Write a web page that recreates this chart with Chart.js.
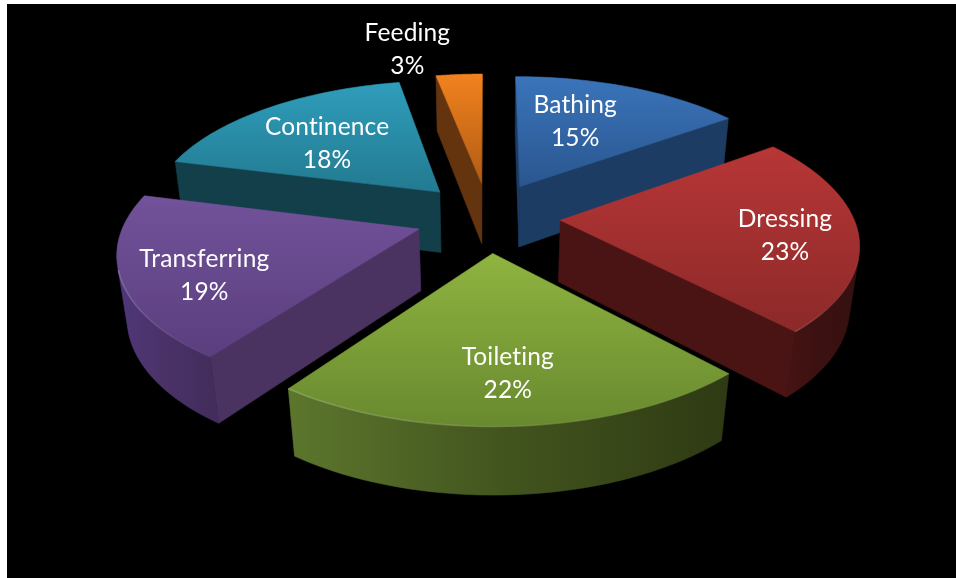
<!DOCTYPE html>
<html>
<head>
<meta charset="utf-8">
<title>Activities of daily living</title>
<script src="https://cdn.jsdelivr.net/npm/chart.js@4"></script>
<style>
  html, body { margin: 0; padding: 0; background: #fff; }
  canvas { display: block; }
</style>
</head>
<body>
<canvas id="pie" width="956" height="578"></canvas>
<script>
const activities = ['Bathing', 'Dressing', 'Toileting', 'Transferring', 'Continence', 'Feeding'];
const shares = [15, 23, 22, 19, 18, 3];

// top face gradient, radial wall, curved wall left/middle/right
const topLight = ['#3a74ba', '#b83636', '#8fb440', '#72529a', '#2f9dbb', '#f2821f'];
const topDark = ['#2a568f', '#8c2929', '#69892f', '#5a3e7e', '#227a90', '#b05c14'];
const wallFlat = ['#1c3c63', '#4a1414', '#2e3a13', '#4a3361', '#133f4b', '#64340f'];
const curveLeft = ['#1c3c63', '#4a1414', '#5c762d', '#50377a', '#133f4b', '#64340f'];
const curveMid = ['#1c3c63', '#3d1111', '#42541e', '#4a3268', '#133f4b', '#64340f'];
const curveRight = ['#1c3c63', '#351010', '#2e3a13', '#432d5c', '#133f4b', '#64340f'];

// where each label sits along the slice's middle angle, then a small nudge
const labelReach = [0.5, 0.76, 0.68, 0.74, 0.7, 1.3];
const labelNudge = [[-3, -12], [-1, 5], [0, 9], [3, 10], [11, 12], [-46, 3]];

// perspective view of the flattened pie, radius 1 in model units
const view = { cx: 488, cy: 217, ax: 293, ay: 135, az: 63, k: 0.15, m: 0.027 };
const explodeX = 0.247;
const explodeY = 0.26;

function project(x, y, z) {
    const w = 1 - view.k * y + view.m * z;
    return [view.cx + view.ax * x / w, view.cy + (view.ay * y + view.az * z) / w];
}

function tracePath(ctx, pts) {
    ctx.beginPath();
    pts.forEach((p, i) => i ? ctx.lineTo(p[0], p[1]) : ctx.moveTo(p[0], p[1]));
    ctx.closePath();
}

function signedArea(pts) {
    let a = 0;
    pts.forEach((p, i) => {
        const q = pts[(i + 1) % pts.length];
        a += p[0] * q[1] - q[0] * p[1];
    });
    return a;
}

function fillFace(ctx, pts, fill) {
    tracePath(ctx, pts);
    ctx.fillStyle = fill;
    ctx.strokeStyle = fill;
    ctx.lineWidth = 0.6;
    ctx.fill();
    ctx.stroke();
}

function drawSlice(ctx, arc, i) {
    const mid = (arc.startAngle + arc.endAngle) / 2;
    const ox = explodeX * Math.cos(mid);
    const oy = explodeY * Math.sin(mid);
    const steps = 40;
    const rim = [];
    for (let s = 0; s <= steps; s++) {
        const a = arc.startAngle + (arc.endAngle - arc.startAngle) * s / steps;
        rim.push([ox + Math.cos(a), oy + Math.sin(a)]);
    }
    const top = rim.map(p => project(p[0], p[1], 0));
    const low = rim.map(p => project(p[0], p[1], 1));
    const apexTop = project(ox, oy, 0);
    const apexLow = project(ox, oy, 1);

    // radial walls, only the ones turned towards the viewer
    const walls = [
        [apexTop, top[0], low[0], apexLow],
        [top[steps], apexTop, apexLow, low[steps]]
    ];
    walls.forEach(w => {
        if (signedArea(w) < 0) fillFace(ctx, w, wallFlat[i]);
    });

    // the part of the rim that faces the viewer
    const front = [];
    for (let s = 0; s <= steps; s++) {
        const prev = Math.max(s - 1, 0);
        const next = Math.min(s + 1, steps);
        if (signedArea([top[prev], top[next], low[next], low[prev]]) < 0) front.push(s);
    }
    const xs = top.map(p => p[0]);

    // curved outer wall
    if (front.length > 1) {
        const curve = ctx.createLinearGradient(Math.min(...xs), 0, Math.max(...xs), 0);
        curve.addColorStop(0, curveLeft[i]);
        curve.addColorStop(0.5, curveMid[i]);
        curve.addColorStop(1, curveRight[i]);
        const band = front.map(s => top[s]).concat(front.slice().reverse().map(s => low[s]));
        fillFace(ctx, band, curve);
    }

    // top face
    const ys = top.map(p => p[1]).concat(apexTop[1]);
    const shade = ctx.createLinearGradient(0, Math.min(...ys), 0, Math.max(...ys));
    shade.addColorStop(0, topLight[i]);
    shade.addColorStop(1, topDark[i]);
    fillFace(ctx, [apexTop].concat(top), shade);

    // soft bevel along the front of the rim, fading to the right
    if (front.length > 1) {
        const bevel = ctx.createLinearGradient(Math.min(...xs), 0, Math.max(...xs), 0);
        bevel.addColorStop(0, 'rgba(255,255,255,0.2)');
        bevel.addColorStop(0.6, 'rgba(255,255,255,0.07)');
        bevel.addColorStop(1, 'rgba(255,255,255,0.02)');
        ctx.beginPath();
        front.forEach((s, n) => n ? ctx.lineTo(top[s][0], top[s][1]) : ctx.moveTo(top[s][0], top[s][1]));
        ctx.strokeStyle = bevel;
        ctx.lineWidth = 1.6;
        ctx.stroke();
    }
}

function drawLabel(ctx, arc, i) {
    const mid = (arc.startAngle + arc.endAngle) / 2;
    const reach = labelReach[i];
    const p = project((explodeX + reach) * Math.cos(mid), (explodeY + reach) * Math.sin(mid), 0);
    const x = p[0] + labelNudge[i][0];
    const y = p[1] + labelNudge[i][1];
    ctx.fillStyle = '#fff';
    ctx.font = '24.5px Lato, "Open Sans", sans-serif';
    ctx.letterSpacing = '0.15px';
    ctx.textAlign = 'center';
    ctx.textBaseline = 'middle';
    ctx.fillText(activities[i], x, y - 16.5);
    ctx.fillText(shares[i] + '%', x, y + 16.5);
}

const extrudedPie = {
    id: 'extrudedPie',
    beforeDatasetsDraw(chart) {
        const ctx = chart.ctx;
        const arcs = chart.getDatasetMeta(0).data;
        ctx.fillStyle = '#000';
        ctx.fillRect(7, 4, 949, 574);
        const order = arcs.map((a, i) => i).sort((a, b) =>
            Math.sin((arcs[a].startAngle + arcs[a].endAngle) / 2) -
            Math.sin((arcs[b].startAngle + arcs[b].endAngle) / 2));
        order.forEach(i => drawSlice(ctx, arcs[i], i));
        arcs.forEach((a, i) => drawLabel(ctx, a, i));
        return false;
    }
};

new Chart(document.getElementById('pie').getContext('2d'), {
    type: 'pie',
    data: {
        labels: activities,
        datasets: [{ data: shares, backgroundColor: topLight, borderWidth: 0 }]
    },
    options: {
        responsive: false,
        animation: false,
        plugins: { legend: { display: false }, tooltip: { enabled: false } }
    },
    plugins: [extrudedPie]
});
</script>
</body>
</html>
